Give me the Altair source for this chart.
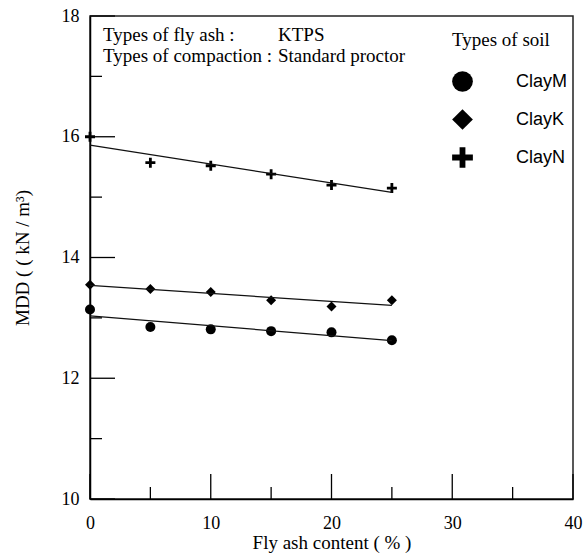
import altair as alt
import pandas as pd

# Fly ash content (%) and maximum dry density (kN/m3) for each soil
fly_ash = [0, 5, 10, 15, 20, 25]
clay_m = [13.14, 12.85, 12.81, 12.78, 12.76, 12.63]
clay_k = [13.55, 13.48, 13.43, 13.29, 13.19, 13.29]
clay_n = [16.00, 15.57, 15.52, 15.38, 15.20, 15.15]
soils = ["ClayM", "ClayK", "ClayN"]

# axis tick values
x_major = [0, 10, 20, 30, 40]
x_minor = [5, 15, 25, 35]
y_major = [10, 12, 14, 16, 18]
y_minor = [11, 13, 15, 17]

SERIF = "Liberation Serif"
SANS = "Liberation Sans"

rows = []
for name, vals in zip(soils, [clay_m, clay_k, clay_n]):
    for fa, v in zip(fly_ash, vals):
        rows.append({"soil": name, "fly_ash": fa, "mdd": v})
df = pd.DataFrame(rows)

# plus sign drawn as a filled path in unit coordinates
plus = "M-1,-0.28H-0.28V-1H0.28V-0.28H1V0.28H0.28V1H-0.28V0.28H-1Z"

x_enc = alt.X(
    "fly_ash:Q",
    scale=alt.Scale(domain=[0, 40], nice=False, zero=False),
    axis=alt.Axis(values=x_major, format="d", title="Fly ash content ( % )",
                  labelPadding=15, labelFlush=False, titlePadding=1),
)
y_enc = alt.Y(
    "mdd:Q",
    scale=alt.Scale(domain=[10, 18], nice=False, zero=False),
    axis=alt.Axis(values=y_major, format="d", title="MDD ( ( kN / m³)",
                  labelPadding=11, labelFlush=False, titlePadding=29),
)

points = alt.Chart(df).mark_point(filled=True, color="black", opacity=1, size=100).encode(
    x=x_enc,
    y=y_enc,
    shape=alt.Shape(
        "soil:N",
        scale=alt.Scale(domain=soils, range=["circle", "diamond", plus]),
        legend=alt.Legend(
            orient="none", legendX=362, legendY=15, padding=0,
            title="Types of soil", titleFont=SERIF, titleFontSize=19,
            titleFontWeight="normal", titleColor="black", titlePadding=21,
            labelFont=SANS, labelFontSize=18, labelColor="black", labelOffset=43,
            symbolSize=430, symbolFillColor="black", symbolStrokeColor="black",
            symbolStrokeWidth=0, rowPadding=17,
        ),
    ),
)

fits = alt.Chart(df).transform_regression(
    "fly_ash", "mdd", groupby=["soil"]
).mark_line(color="#111", strokeWidth=1.3).encode(
    x="fly_ash:Q", y="mdd:Q", detail="soil:N"
)

def y_ticks(vals, length):
    return alt.Chart(pd.DataFrame({"mdd": vals})).mark_rule(color="black", strokeWidth=1.3).encode(
        y="mdd:Q", x=alt.value(0), x2=alt.value(length)
    )

def x_ticks(vals, length):
    return alt.Chart(pd.DataFrame({"fly_ash": vals})).mark_rule(color="black", strokeWidth=1.3).encode(
        x="fly_ash:Q", y=alt.value(483), y2=alt.value(483 - length)
    )

note_left = alt.Chart(pd.DataFrame({"t": [0]})).mark_text(
    text=["Types of fly ash :", "Types of compaction :"], font=SERIF, fontSize=19,
    align="left", baseline="alphabetic", lineHeight=20.5, color="black",
).encode(x=alt.value(13), y=alt.value(25))

note_right = alt.Chart(pd.DataFrame({"t": [0]})).mark_text(
    text=["KTPS", "Standard proctor"], font=SERIF, fontSize=19,
    align="left", baseline="alphabetic", lineHeight=20.5, color="black",
).encode(x=alt.value(188), y=alt.value(25))

chart = alt.layer(
    points, fits,
    y_ticks(y_major, 25), y_ticks(y_minor, 12),
    x_ticks(x_major, 25), x_ticks(x_minor, 12),
    note_left, note_right,
).properties(
    width=483, height=483,
    padding={"left": 90, "top": 16, "right": 14, "bottom": 58},
    autosize=alt.AutoSizeParams(type="none"),
).configure_view(
    stroke="#222", strokeWidth=1.5
).configure_axis(
    grid=False, ticks=False, domainColor="black", domainWidth=1.5,
    labelFont=SERIF, labelFontSize=18, labelColor="black",
    titleFont=SERIF, titleFontSize=19, titleFontWeight="normal", titleColor="black",
)

chart.save("out.html", embed_options={"renderer": "svg", "actions": False})
